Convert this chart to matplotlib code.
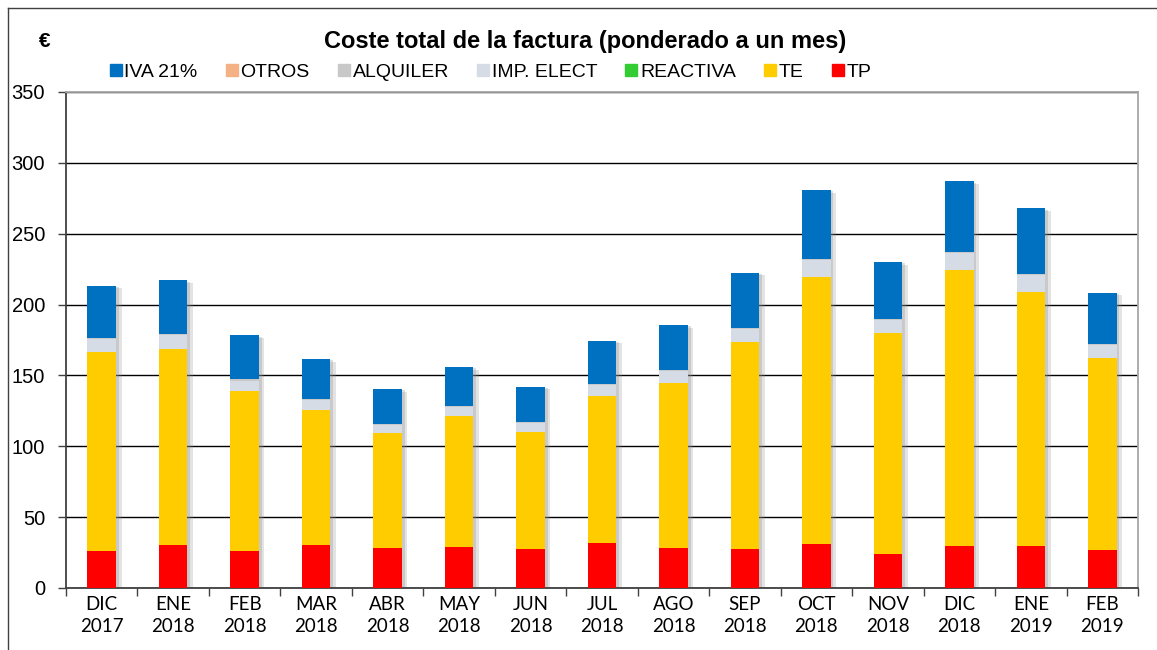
import numpy as np
import matplotlib
matplotlib.use("Agg")
import matplotlib.pyplot as plt
from matplotlib import patheffects
from matplotlib.lines import Line2D

months = ["DIC\n2017", "ENE\n2018", "FEB\n2018", "MAR\n2018", "ABR\n2018",
          "MAY\n2018", "JUN\n2018", "JUL\n2018", "AGO\n2018", "SEP\n2018",
          "OCT\n2018", "NOV\n2018", "DIC\n2018", "ENE\n2019", "FEB\n2019"]

# euros per month
tp = [26.0, 30.0, 26.0, 30.0, 28.1, 28.8, 27.2, 31.9, 28.1, 27.2, 30.9, 24.2, 29.5, 29.8, 26.7]
te = [140.5, 138.7, 112.8, 95.6, 81.0, 92.5, 83.1, 103.8, 116.5, 146.4, 188.6, 155.5, 194.9, 179.4, 135.9]
reactiva = [0, 0, 0, 0, 0, 0, 0, 0, 0, 0, 0, 0, 0, 0, 0]
imp_elect = [8.9, 9.5, 7.6, 6.9, 6.1, 6.6, 6.0, 7.7, 8.2, 9.4, 11.9, 9.6, 11.9, 11.4, 9.1]
alquiler = [0.8, 0.8, 0.8, 0.8, 0.8, 0.8, 0.8, 0.8, 0.8, 0.8, 0.8, 0.8, 0.8, 0.8, 0.8]
otros = [0, 0, 0, 0, 0, 0, 0, 0, 0, 0, 0, 0, 0, 0, 0]
iva = [37.2, 38.0, 31.1, 28.3, 24.4, 27.2, 25.0, 30.4, 32.0, 38.8, 48.7, 40.0, 49.8, 46.4, 36.0]

# stacking order bottom -> top
series = [("TP", tp, "#FF0000"),
          ("TE", te, "#FFCC00"),
          ("REACTIVA", reactiva, "#33CC33"),
          ("IMP. ELECT", imp_elect, "#D6DCE5"),
          ("ALQUILER", alquiler, "#C8C8C8"),
          ("OTROS", otros, "#F4B183"),
          ("IVA 21%", iva, "#0070C0")]
legend_order = ["IVA 21%", "OTROS", "ALQUILER", "IMP. ELECT", "REACTIVA", "TE", "TP"]

fig = plt.figure(figsize=(11.57, 6.5), dpi=100)
fig.patch.set_facecolor("white")
ax = fig.add_axes([0.057, 0.0954, 0.9266, 0.7631])

x = np.arange(len(months))
width = 0.4

# soft shadow behind the whole stack
total = np.sum([s[1] for s in series], axis=0)
ax.bar(x, total, width, color="white", zorder=2,
       path_effects=[patheffects.SimplePatchShadow(offset=(4, -2), shadow_rgbFace="#909090", alpha=0.25),
                     patheffects.SimplePatchShadow(offset=(2, -1), shadow_rgbFace="#909090", alpha=0.3),
                     patheffects.Normal()])

bottom = np.zeros(len(months))
for name, vals, col in series:
    vals = np.array(vals, dtype=float)
    ax.bar(x, vals, width, bottom=bottom, color=col, zorder=3, linewidth=0)
    bottom += vals

ax.set_xlim(-0.5, len(months) - 0.5)
ax.set_ylim(0, 350)
ax.set_yticks(range(0, 351, 50))
ax.set_axisbelow(True)
ax.yaxis.grid(True, color="black", linewidth=1.0)

ax.set_xticks(x)
ax.set_xticklabels(months, fontsize=13.5, family="Lato", color="black", linespacing=1.3)
ax.set_xticks(np.arange(-0.5, len(months), 1), minor=True)
ax.tick_params(axis="x", which="major", length=0, pad=6)
ax.tick_params(axis="x", which="minor", length=6, width=1, color="#404040", direction="out")
ax.tick_params(axis="y", length=6, width=1, color="#404040", labelsize=14.5, pad=9)
for lab in ax.get_yticklabels():
    lab.set_family("Liberation Sans")

for side in ["left", "bottom"]:
    ax.spines[side].set_color("#404040")
    ax.spines[side].set_linewidth(1.3)
for side in ["top", "right"]:
    ax.spines[side].set_color("#A6A6A6")
    ax.spines[side].set_linewidth(1.3)

fig.text(0.506, 0.936, "Coste total de la factura (ponderado a un mes)", ha="center", va="center",
         fontsize=17, fontweight="bold", family="Liberation Sans")
fig.text(0.039, 0.936, "€", ha="center", va="center", fontsize=15, fontweight="bold",
         family="Liberation Sans")

colors = {name: col for name, vals, col in series}
handles = [Line2D([], [], marker="s", linestyle="none", markersize=8, color=colors[n]) for n in legend_order]
fig.legend(handles, legend_order, ncol=7, loc="center", bbox_to_anchor=(0.424, 0.889),
           frameon=False, handlelength=0.6, handletextpad=0.15, columnspacing=1.45,
           prop={"family": "Liberation Sans", "size": 14})

# outer chart border
fig.add_artist(Line2D([0.007, 0.007], [0.0, 0.987], color="#404040", linewidth=1, transform=fig.transFigure))
fig.add_artist(Line2D([0.007, 1.0], [0.987, 0.987], color="#404040", linewidth=1, transform=fig.transFigure))

fig.savefig("out.png", dpi=100)
